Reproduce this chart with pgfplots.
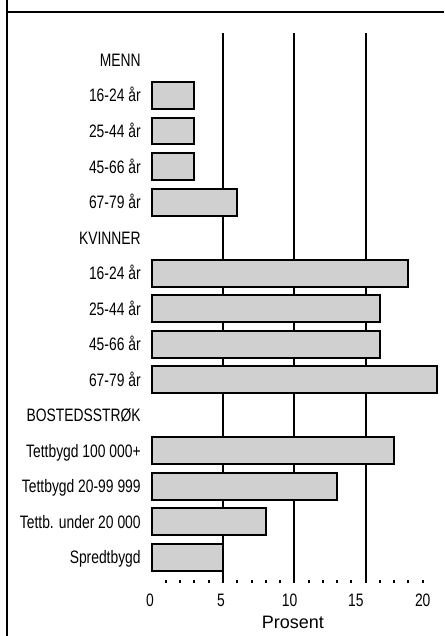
\documentclass[border=0pt]{standalone}
\usepackage{fontspec}
\setmainfont{Liberation Sans}
\newfontfamily\narrowfont[FakeStretch=0.77]{Liberation Sans}
\usepackage{pgfplots}
\pgfplotsset{compat=1.18}
\definecolor{barfill}{HTML}{D0D0D0}

\begin{document}
\begin{tikzpicture}[x=1pt,y=1pt]
\path[use as bounding box] (0,0) rectangle (444,-636);
% frame of the figure box
\draw[line width=1.8pt] (7,-636) -- (7,0);
\draw[line width=2.5pt] (6.1,-12) -- (444,-12);
\begin{axis}[
  at={(148.85pt,-33pt)}, anchor=north west,
  scale only axis, width=288.15pt, height=550pt,
  xmin=-0.2, xmax=20, ymin=-0.76, ymax=14.73, y dir=reverse,
  clip=false,
  axis line style={draw=none},
  xtick pos=lower, ytick pos=left,
  major tick length=0pt,
  xtick={-0.12,4.86,9.66,14.31,19.0},
  xticklabels={0,5,10,15,20},
  extra x ticks={5,10,15}, extra x tick labels={},
  extra x tick style={grid=major},
  major grid style={black, line width=2pt},
  minor xtick={1,2,3,4,6,7,8,9,11,12,13,14,16,17,18,19},
  minor tick length=3pt, tick align=inside,
  minor x tick style={black, line width=2pt},
  ytick={0,...,14},
  yticklabels={MENN,16-24 år,25-44 år,45-66 år,67-79 år,
    KVINNER,16-24 år,25-44 år,45-66 år,67-79 år,
    BOSTEDSSTRØK,Tettbygd 100 000+,Tettbygd 20-99 999,Tettb. under 20 000,Spredtbygd},
  yticklabel style={anchor=east, inner sep=0pt, xshift=-8pt,
    font=\narrowfont\fontsize{18}{18}\selectfont, text height=13pt, text depth=0pt},
  xticklabel style={anchor=north, inner sep=0pt, yshift=-10pt,
    font=\narrowfont\fontsize{18}{18}\selectfont, text height=13pt, text depth=0pt},
  xlabel={Prosent},
  xlabel style={font=\fontsize{18}{18}\selectfont, inner sep=0pt, anchor=north,
    at={(axis description cs:0.5,0)}, yshift=-32pt, text height=13pt, text depth=0pt},
]
\addplot[xbar, bar width=0.76, fill=barfill, draw=black, line width=2pt]
coordinates {
  (3,1) (3,2) (3,3) (6,4)
  (18,6) (16,7) (16,8) (20,9)
  (17,11) (13,12) (8,13) (5,14)
};
\end{axis}
\end{tikzpicture}
\end{document}
